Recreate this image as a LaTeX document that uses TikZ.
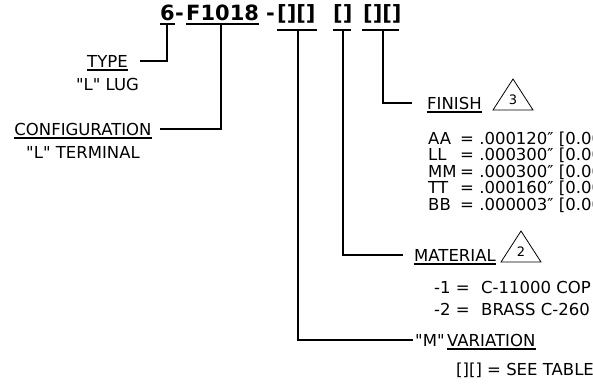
\documentclass[tikz,border=0pt]{standalone}
\usepackage{fontspec}
\setmainfont{DejaVu Sans}[Ligatures=TeXOff]
\begin{document}
\begin{tikzpicture}[x=1pt,y=-1pt,
  font=\fontsize{16.5}{19}\selectfont,
  lbl/.style={inner sep=0pt, anchor=base west},
  cl/.style={inner sep=0pt, anchor=base},
  ttl/.style={inner sep=0pt, anchor=base west, font=\bfseries\fontsize{21}{24}\selectfont},
  num/.style={inner sep=0pt, anchor=base, font=\fontsize{13}{15}\selectfont},
  conn/.style={line width=1.4pt},
  ul/.style={line width=1.2pt},
  tri/.style={line width=0.8pt}]
\useasboundingbox (0,0) rectangle (593,388);
\clip (0,0) rectangle (593,388);
% title
\node[ttl] (t6) at (160,20) {6};
\node[ttl] (td1) at (175,20) {-};
\node[ttl] (tF) at (186,20) {F1018};
\node[ttl] (td2) at (266,20) {-};
\node[ttl] (g1) at (277,20) {[][]};
\node[ttl] (g2) at (333,20) {[]};
\node[ttl] (g3) at (363,20) {[][]};
% underlines of title
\draw[ul] ([yshift=-4pt]t6.base west) -- ([yshift=-4pt]t6.base east);
\draw[ul] ([yshift=-4pt]tF.base west) -- ([yshift=-4pt]tF.base east);
\draw[ul] (277,30) -- (317,30);
\draw[ul] (333,30) -- (351,30);
\draw[ul] (362,30) -- (399,30);
% left labels
\node[cl] (type) at (107.5,67) {TYPE};
\draw[ul] ([yshift=-3pt]type.base west) -- ([yshift=-3pt]type.base east);
\node[cl] (lug) at (107.5,90) {"L" LUG};
\node[cl] (conf) at (83,135) {CONFIGURATION};
\draw[ul] ([yshift=-3pt]conf.base west) -- ([yshift=-3pt]conf.base east);
\node[cl] (term) at (83,158) {"L" TERMINAL};
% finish
\node[lbl] (fin) at (427,109) {FINISH};
\draw[ul] ([yshift=-3pt]fin.base west) -- ([yshift=-3pt]fin.base east);
\draw[tri] (493,110) -- (513,79) -- (533,110) -- cycle;
\node[num] (n3) at (513,104) {3};
\foreach \c/\v/\yy in {AA/.000120/144, LL/.000300/160.5, MM/.000300/177, TT/.000160/193.5, BB/.000003/210}{
  \node[lbl] (c\c) at (428,\yy) {\c};
  \node[lbl] (v\c) at (460,\yy) {= \v\char"2033\ [0.00};
}
% material
\node[lbl] (mat) at (414,261) {MATERIAL};
\draw[ul] ([yshift=-3pt]mat.base west) -- ([yshift=-3pt]mat.base east);
\draw[tri] (501,262) -- (521,231) -- (541,262) -- cycle;
\node[num] (n2) at (521,256) {2};
\node[lbl] (m1a) at (434,293) {-1 =};
\node[lbl] (m1b) at (481,293) {C-11000 COP};
\node[lbl] (m2a) at (434,315) {-2 =};
\node[lbl] (m2b) at (481,315) {BRASS C-260};
% variation
\node[lbl] (varm) at (415,346) {"M"};
\node[lbl] (var) at (447,346) {VARIATION};
\draw[ul] ([yshift=-3pt]var.base west) -- ([yshift=-3pt]var.base east);
\node[lbl] (see) at (456,375) {[][] = SEE TABLE};
% connectors
\coordinate (a6) at (167,24);
\coordinate (aT) at (140,61);
\draw[conn] (a6) -- (a6 |- aT) -- (aT);
\coordinate (aF) at (221,24);
\coordinate (aC) at (160,129);
\draw[conn] (aF) -- (aF |- aC) -- (aC);
\coordinate (a3) at (383,30);
\coordinate (aFi) at (412,103);
\draw[conn] (a3) -- (a3 |- aFi) -- (aFi);
\coordinate (a2) at (343,30);
\coordinate (aM) at (403,255);
\draw[conn] (a2) -- (a2 |- aM) -- (aM);
\coordinate (a1) at (298,30);
\coordinate (aV) at (413,340);
\draw[conn] (a1) -- (a1 |- aV) -- (aV);
\end{tikzpicture}
\end{document}
